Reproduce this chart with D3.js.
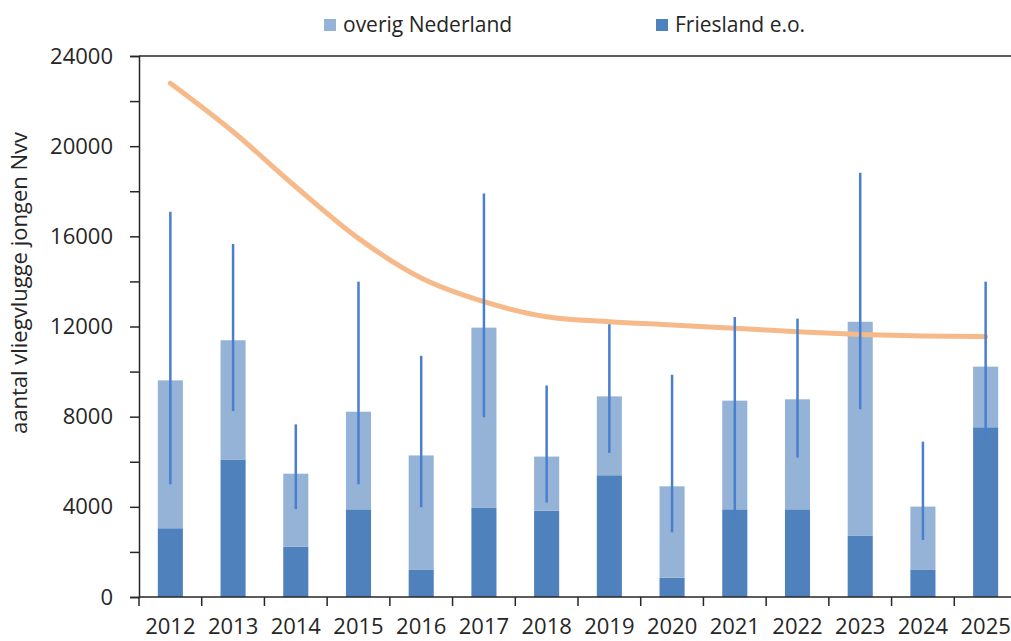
<!DOCTYPE html>
<html>
<head>
<meta charset="utf-8">
<script src="https://cdnjs.cloudflare.com/ajax/libs/d3/7.8.5/d3.min.js"></script>
<style>
  body { margin: 0; background: #fff; }
  text { font-family: "Open Sans", sans-serif; fill: #262626; }
</style>
</head>
<body>
<script>
// data
var years = ["2012", "2013", "2014", "2015", "2016", "2017", "2018", "2019", "2020", "2021", "2022", "2023", "2024", "2025"];
var friesland = [3050, 6100, 2230, 3890, 1200, 3950, 3830, 5400, 860, 3890, 3890, 2710, 1200, 7530];
var overig = [6560, 5290, 3240, 4330, 5080, 8000, 2400, 3500, 4050, 4820, 4880, 9500, 2810, 2690];
var errLow = [5000, 8250, 3900, 5000, 3980, 7970, 4190, 6390, 2870, 3590, 6180, 8330, 2530, 7110];
var errHigh = [17090, 15660, 7660, 13990, 10700, 17900, 9380, 12100, 9860, 12420, 12350, 18820, 6890, 13990];
var trend = [22790, 20640, 18200, 15910, 14150, 13100, 12430, 12210, 12070, 11920, 11770, 11650, 11580, 11550];
var yTicks = [0, 4000, 8000, 12000, 16000, 20000, 24000];
var seriesNames = ["Friesland e.o.", "overig Nederland"];
var colors = { "Friesland e.o.": "#4f81bd", "overig Nederland": "#95b3d7" };

var width = 1011, height = 641;
var marginLeft = 139, plotRight = 1017, plotTop = 56, plotBottom = 597;

var svg = d3.select("body").append("svg")
    .attr("width", width)
    .attr("height", height);

var x = d3.scaleBand()
    .domain(years)
    .range([marginLeft, plotRight])
    .paddingInner(0.6)
    .paddingOuter(0.3);

var y = d3.scaleLinear()
    .domain([0, 24000])
    .range([plotBottom, plotTop]);

var rows = years.map(function(d, i) {
    return { year: d, "Friesland e.o.": friesland[i], "overig Nederland": overig[i] };
});
var stacked = d3.stack().keys(seriesNames)(rows);

// bars
svg.append("g")
    .selectAll("g")
    .data(stacked)
    .enter().append("g")
    .attr("fill", function(s) { return colors[s.key]; })
    .selectAll("rect")
    .data(function(s) { return s; })
    .enter().append("rect")
    .attr("x", function(d) { return x(d.data.year); })
    .attr("width", x.bandwidth())
    .attr("y", function(d) { return y(d[1]); })
    .attr("height", function(d) { return y(d[0]) - y(d[1]); });

// trend line
var line = d3.line()
    .x(function(d, i) { return x(years[i]) + x.bandwidth() / 2; })
    .y(function(d) { return y(d); })
    .curve(d3.curveMonotoneX);

svg.append("path")
    .datum(trend)
    .attr("d", line)
    .attr("fill", "none")
    .attr("stroke", "#f6b98a")
    .attr("stroke-width", 5)
    .attr("stroke-linecap", "round");

// error bars
svg.append("g")
    .selectAll("line")
    .data(years)
    .enter().append("line")
    .attr("x1", function(d) { return x(d) + x.bandwidth() / 2; })
    .attr("x2", function(d) { return x(d) + x.bandwidth() / 2; })
    .attr("y1", function(d, i) { return y(errLow[i]); })
    .attr("y2", function(d, i) { return y(errHigh[i]); })
    .attr("stroke", "#4a7ecf")
    .attr("stroke-width", 2.5);

// y axis, ticks every 2000, labels every 4000
var yAxis = svg.append("g")
    .attr("transform", "translate(" + marginLeft + ",0)")
    .call(d3.axisLeft(y)
        .tickValues(d3.range(0, 24001, 2000))
        .tickSize(9)
        .tickPadding(17)
        .tickFormat(function(d) { return yTicks.indexOf(d) >= 0 ? d : ""; }));
yAxis.select(".domain").attr("stroke", "#262626").attr("stroke-width", 1.5);
yAxis.selectAll(".tick line").attr("stroke", "#262626").attr("stroke-width", 1.5);
yAxis.selectAll("text")
    .style("font-size", "22px")
    .style("font-family", "'Open Sans', sans-serif")
    .attr("fill", "#262626");

// top border line
svg.append("line")
    .attr("x1", marginLeft).attr("x2", width)
    .attr("y1", y(24000)).attr("y2", y(24000))
    .attr("stroke", "#262626").attr("stroke-width", 1.5);

// x axis
var xAxis = svg.append("g")
    .attr("transform", "translate(0," + plotBottom + ")")
    .call(d3.axisBottom(x).tickSize(0).tickPadding(21));
xAxis.select(".domain").remove();
xAxis.selectAll("text")
    .style("font-size", "22px")
    .style("font-family", "'Open Sans', sans-serif")
    .attr("fill", "#262626");

svg.append("line")
    .attr("x1", marginLeft).attr("x2", width)
    .attr("y1", plotBottom).attr("y2", plotBottom)
    .attr("stroke", "#262626").attr("stroke-width", 1.5);

svg.append("g")
    .selectAll("line")
    .data(d3.range(years.length + 1))
    .enter().append("line")
    .attr("x1", function(i) { return marginLeft + i * x.step(); })
    .attr("x2", function(i) { return marginLeft + i * x.step(); })
    .attr("y1", plotBottom)
    .attr("y2", plotBottom + 9)
    .attr("stroke", "#262626")
    .attr("stroke-width", 1.5);

// y axis title
svg.append("text")
    .attr("transform", "translate(27,283) rotate(-90)")
    .attr("text-anchor", "middle")
    .style("font-size", "22px")
    .text("aantal vliegvlugge jongen Nvv");

// legend
var legend = svg.append("g");
var legendItems = [
    { name: "overig Nederland", x: 324 },
    { name: "Friesland e.o.", x: 656 }
];
legend.selectAll("rect")
    .data(legendItems)
    .enter().append("rect")
    .attr("x", function(d) { return d.x; })
    .attr("y", 19)
    .attr("width", 12)
    .attr("height", 12)
    .attr("fill", function(d) { return colors[d.name]; });
legend.selectAll("text")
    .data(legendItems)
    .enter().append("text")
    .attr("x", function(d) { return d.x + 19; })
    .attr("y", 32)
    .style("font-size", "21px")
    .text(function(d) { return d.name; });
</script>
</body>
</html>
